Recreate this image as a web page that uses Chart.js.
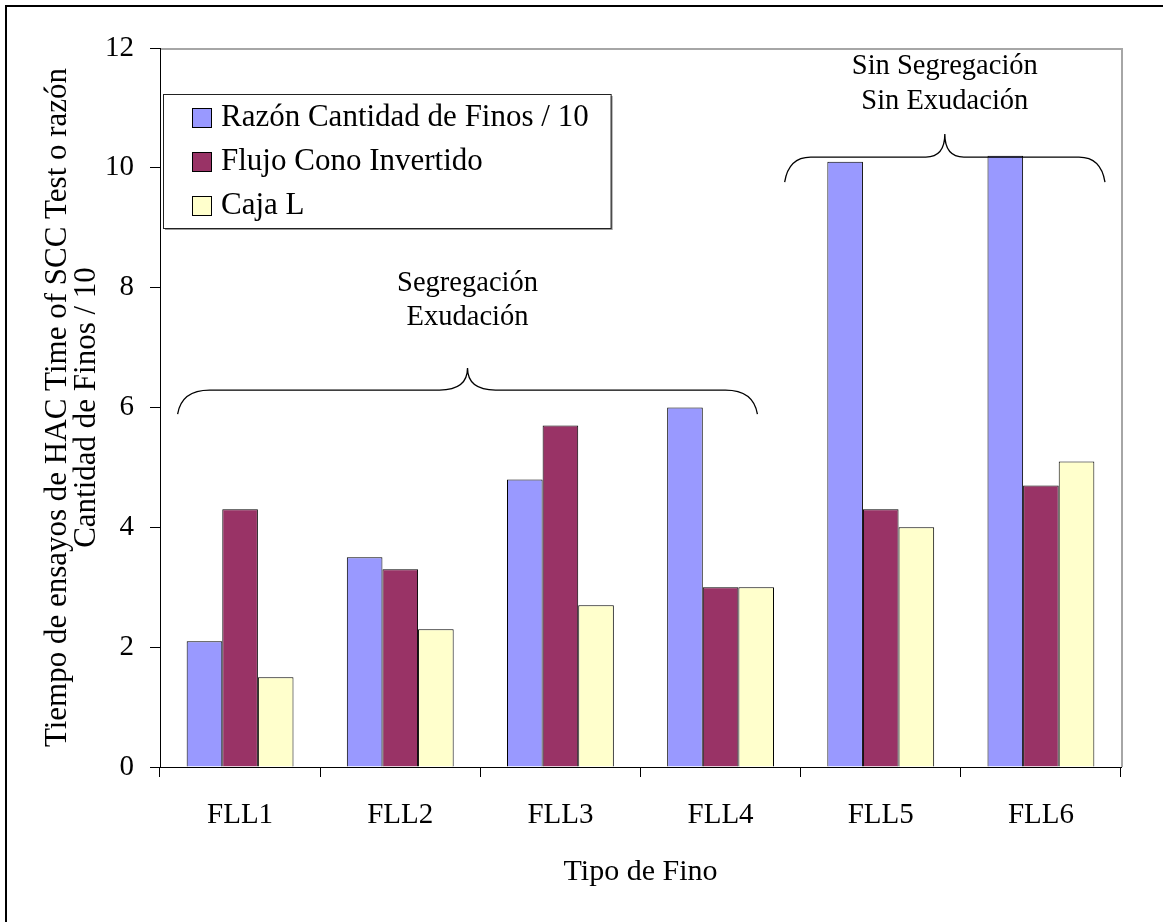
<!DOCTYPE html>
<html>
<head>
<meta charset="utf-8">
<script src="https://cdn.jsdelivr.net/npm/chart.js@4/dist/chart.umd.min.js"></script>
<style>
  html, body { margin: 0; padding: 0; background: #fff; }
  #wrap { position: relative; width: 1165px; height: 922px; }
  canvas { display: block; }
</style>
</head>
<body>
<div id="wrap"><canvas id="chart" width="1165" height="922"></canvas></div>
<script>
// Data
const categories = ['FLL1', 'FLL2', 'FLL3', 'FLL4', 'FLL5', 'FLL6'];
const seriesNames = ['Razón Cantidad de Finos / 10', 'Flujo Cono Invertido', 'Caja L'];
const razonFinos = [2.1, 3.5, 4.8, 6.0, 10.1, 10.2];
const flujoCono = [4.3, 3.3, 5.7, 3.0, 4.3, 4.7];
const cajaL = [1.5, 2.3, 2.7, 3.0, 4.0, 5.1];
const yTicks = [0, 2, 4, 6, 8, 10, 12];
const groupLabels = [['Segregación', 'Exudación'], ['Sin Segregación', 'Sin Exudación']];

// Style
const FONT = '"Liberation Serif", "Times New Roman", serif';
const COLORS = ['#9999FF', '#993366', '#FFFFCC'];

// Curly-brace annotation geometry (category units / axis values)
const braceSpecs = [
  { from: -0.39, to: 3.23, level: 6.29, drop: 24, rise: 22, r: 32, rp: 28, textGap: 51, lineGap: 34 },
  { from: 3.40, to: 5.40, level: 10.18, drop: 25, rise: 23, r: 26, rp: 19, textGap: 33, lineGap: 35 }
];

const frame = {
  id: 'frame',
  beforeDraw(chart) {
    const { ctx, chartArea: a } = chart;
    ctx.save();
    ctx.fillStyle = '#fff';
    ctx.fillRect(0, 0, chart.width, chart.height);
    ctx.strokeStyle = '#000';
    ctx.lineWidth = 2;
    ctx.beginPath();
    ctx.moveTo(6, chart.height);
    ctx.lineTo(6, 6);
    ctx.lineTo(1163, 6);
    ctx.stroke();
    // plot area outline (top and right)
    ctx.strokeStyle = '#a6a6a6';
    ctx.lineWidth = 2;
    ctx.beginPath();
    ctx.moveTo(a.left, a.top + 1);
    ctx.lineTo(a.right + 1, a.top + 1);
    ctx.lineTo(a.right + 1, a.bottom);
    ctx.stroke();
    ctx.restore();
  }
};

function drawBrace(ctx, x1, x2, yLine, s) {
  const xm = (x1 + x2) / 2;
  ctx.beginPath();
  ctx.moveTo(x1, yLine + s.drop);
  ctx.quadraticCurveTo(x1 + 4, yLine, x1 + s.r, yLine);
  ctx.lineTo(xm - s.rp, yLine);
  ctx.quadraticCurveTo(xm, yLine, xm, yLine - s.rise);
  ctx.quadraticCurveTo(xm, yLine, xm + s.rp, yLine);
  ctx.lineTo(x2 - s.r, yLine);
  ctx.quadraticCurveTo(x2 - 4, yLine, x2, yLine + s.drop);
  ctx.stroke();
}

const braces = {
  id: 'braces',
  afterDatasetsDraw(chart) {
    const { ctx, scales: { x, y } } = chart;
    const x0 = x.getPixelForValue(0);
    const step = x.getPixelForValue(1) - x0;
    ctx.save();
    ctx.strokeStyle = '#000';
    ctx.lineWidth = 1.3;
    ctx.fillStyle = '#000';
    ctx.font = '28.5px ' + FONT;
    ctx.textAlign = 'center';
    ctx.textBaseline = 'middle';
    braceSpecs.forEach((s, k) => {
      const x1 = x0 + s.from * step;
      const x2 = x0 + s.to * step;
      const yLine = y.getPixelForValue(s.level);
      drawBrace(ctx, x1, x2, yLine, s);
      const lines = groupLabels[k];
      const xm = (x1 + x2) / 2;
      const peak = yLine - s.rise;
      lines.forEach((t, i) => {
        ctx.fillText(t, xm, peak - s.textGap - (lines.length - 1 - i) * s.lineGap);
      });
    });
    ctx.restore();
  }
};

const legendBox = {
  id: 'legendBox',
  afterDraw(chart) {
    const { ctx, chartArea: a } = chart;
    const ds = chart.data.datasets;
    ctx.save();
    ctx.font = '31px ' + FONT;
    const textW = Math.max(...ds.map(d => ctx.measureText(d.label).width));
    const left = a.left + 3, top = a.top + 46, rowH = 44, sw = 20;
    const w = 29 + sw + 9 + textW + 22;
    const h = 134;
    // soft drop shadow
    ctx.fillStyle = '#9a9a9a';
    ctx.fillRect(left + 2, top + 2, w, h);
    ctx.fillStyle = '#fff';
    ctx.fillRect(left, top, w, h);
    ctx.strokeStyle = '#222';
    ctx.lineWidth = 1;
    ctx.strokeRect(left + 0.5, top + 0.5, w, h);
    ds.forEach((d, i) => {
      const cy = top + 24 + i * rowH;
      const sx = left + 29;
      ctx.fillStyle = d.backgroundColor;
      ctx.fillRect(sx, cy - 10, sw, sw);
      ctx.strokeStyle = '#000';
      ctx.strokeRect(sx + 0.5, cy - 9.5, sw - 1, sw - 1);
      ctx.fillStyle = '#000';
      ctx.textAlign = 'left';
      ctx.textBaseline = 'middle';
      ctx.fillText(d.label, sx + sw + 9, cy);
    });
    ctx.restore();
  }
};

const seriesValues = [razonFinos, flujoCono, cajaL];

new Chart(document.getElementById('chart'), {
  type: 'bar',
  data: {
    labels: categories,
    datasets: seriesValues.map((vals, i) => ({
      label: seriesNames[i],
      data: vals,
      backgroundColor: COLORS[i],
      borderColor: '#000',
      borderWidth: 1,
      categoryPercentage: 0.667,
      barPercentage: 1.0
    }))
  },
  options: {
    responsive: false,
    animation: false,
    devicePixelRatio: 1,
    layout: { padding: { left: 0, top: 48, right: 44, bottom: 0 } },
    plugins: {
      legend: { display: false },
      tooltip: { enabled: false },
      title: { display: false }
    },
    scales: {
      x: {
        afterFit(s) { s.height = 155; },
        grid: { drawOnChartArea: false, offset: true, tickLength: 10, color: '#000', lineWidth: 1 },
        border: { color: '#000', width: 1 },
        ticks: { color: '#000', font: { family: FONT, size: 29 }, padding: 21, maxRotation: 0, minRotation: 0, autoSkip: false },
        title: {
          display: true,
          text: 'Tipo de Fino',
          color: '#000',
          font: { family: FONT, size: 30 },
          padding: { top: 0, bottom: 32 }
        }
      },
      y: {
        min: 0,
        max: 12,
        afterFit(s) { s.width = 160; },
        afterBuildTicks(s) { s.ticks = yTicks.map(v => ({ value: v })); },
        grid: { drawOnChartArea: false, tickLength: 10, color: '#000', lineWidth: 1 },
        border: { color: '#000', width: 1 },
        ticks: { color: '#000', font: { family: FONT, size: 29 }, padding: 16 },
        title: {
          display: true,
          text: ['Tiempo de ensayos de HAC Time of SCC Test o razón', 'Cantidad de Finos / 10'],
          color: '#000',
          font: { family: FONT, size: 31, lineHeight: 0.92 },
          padding: { top: 44, bottom: 0 }
        }
      }
    }
  },
  plugins: [frame, braces, legendBox]
});
</script>
</body>
</html>
